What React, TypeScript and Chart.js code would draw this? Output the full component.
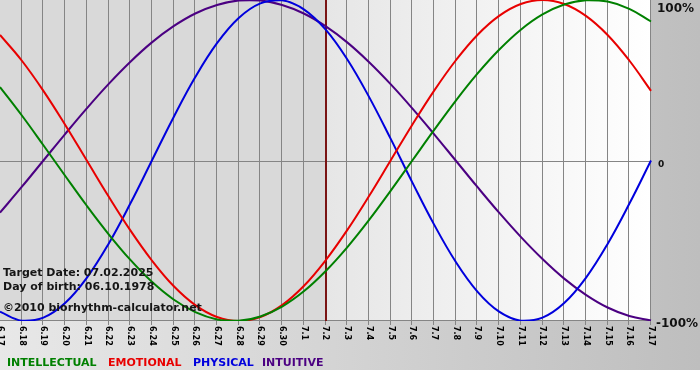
import { useEffect, useRef } from "react";
import { Chart, registerables } from "chart.js";

Chart.register(...registerables);

const days = [
  "6.17", "6.18", "6.19", "6.20", "6.21", "6.22", "6.23", "6.24", "6.25", "6.26",
  "6.27", "6.28", "6.29", "6.30", "7.1", "7.2", "7.3", "7.4", "7.5", "7.6",
  "7.7", "7.8", "7.9", "7.10", "7.11", "7.12", "7.13", "7.14", "7.15", "7.16", "7.17",
];

const intellectual = [
  0.458, 0.282, 0.095, -0.095, -0.282, -0.458, -0.618, -0.756, -0.866, -0.945,
  -0.99, -0.999, -0.972, -0.91, -0.815, -0.69, -0.541, -0.372, -0.189, 0.0,
  0.189, 0.372, 0.541, 0.69, 0.815, 0.91, 0.972, 0.999, 0.99, 0.945, 0.866,
];
const emotional = [
  0.782, 0.623, 0.434, 0.223, 0.0, -0.223, -0.434, -0.623, -0.782, -0.901,
  -0.975, -1.0, -0.975, -0.901, -0.782, -0.623, -0.434, -0.223, 0.0, 0.223,
  0.434, 0.623, 0.782, 0.901, 0.975, 1.0, 0.975, 0.901, 0.782, 0.623, 0.434,
];
const physical = [
  -0.942, -0.998, -0.979, -0.888, -0.731, -0.52, -0.27, 0.0, 0.27, 0.52,
  0.731, 0.888, 0.979, 0.998, 0.942, 0.817, 0.631, 0.398, 0.136, -0.136,
  -0.398, -0.631, -0.817, -0.942, -0.998, -0.979, -0.888, -0.731, -0.52, -0.27, 0.0,
];
const intuitive = [
  -0.325, -0.165, 0.0, 0.165, 0.325, 0.476, 0.614, 0.736, 0.837, 0.916,
  0.969, 0.997, 0.997, 0.969, 0.916, 0.837, 0.736, 0.614, 0.476, 0.325,
  0.165, 0.0, -0.165, -0.325, -0.476, -0.614, -0.736, -0.837, -0.916, -0.969, -0.997,
];

const targetDay = "7.2";
const yTickValues = [1, 0, -1];
const yTickLabels = ["100%", "0", "-100%"];
const seriesNames = ["INTELLECTUAL", "EMOTIONAL", "PHYSICAL", "INTUITIVE"];
const seriesColors = ["#008000", "#e80000", "#0000dd", "#4b0082"];
const infoLines = [
  "Target Date: 07.02.2025",
  "Day of birth: 06.10.1978",
  "\u00A92010 biorhythm-calculator.net",
];

const FONT = "'DejaVu Sans', Verdana, sans-serif";

const decorPlugin = {
  id: "decor",
  beforeDraw(chart: any) {
    const ctx = chart.ctx as CanvasRenderingContext2D;
    const { left, right, top, bottom } = chart.chartArea;
    const xs = chart.scales.x;
    const ys = chart.scales.y;
    const W = chart.width;
    ctx.save();
    const og = ctx.createLinearGradient(0, 0, W, 0);
    og.addColorStop(0, "#e8e8e8");
    og.addColorStop(1, "#bebebe");
    ctx.fillStyle = og;
    ctx.fillRect(0, 0, W, 370);
    ctx.fillStyle = "#ffffff";
    ctx.fillRect(0, 370, W, chart.height - 370);

    const tx = xs.getPixelForValue(days.indexOf(targetDay));
    ctx.fillStyle = "#d9d9d9";
    ctx.fillRect(left, top, tx - left, bottom - top);
    const pg = ctx.createLinearGradient(tx, 0, right, 0);
    pg.addColorStop(0, "#e6e6e6");
    pg.addColorStop(1, "#ffffff");
    ctx.fillStyle = pg;
    ctx.fillRect(tx, top, right - tx, bottom - top);

    ctx.strokeStyle = "#858585";
    ctx.lineWidth = 1;
    ctx.beginPath();
    for (let i = 0; i < days.length; i++) {
      const x = Math.round(xs.getPixelForValue(i)) - 0.5;
      ctx.moveTo(x, top);
      ctx.lineTo(x, bottom + 4);
    }
    const y0 = Math.round(ys.getPixelForValue(0)) + 0.5;
    ctx.moveTo(left, y0);
    ctx.lineTo(right, y0);
    const yb = Math.round(bottom) - 0.5;
    ctx.moveTo(left, yb);
    ctx.lineTo(right, yb);
    ctx.stroke();

    ctx.strokeStyle = "#7a1414";
    ctx.lineWidth = 2;
    ctx.beginPath();
    ctx.moveTo(Math.round(tx), top);
    ctx.lineTo(Math.round(tx), bottom);
    ctx.stroke();
    ctx.restore();
  },
  afterDraw(chart: any) {
    const ctx = chart.ctx as CanvasRenderingContext2D;
    const { right, bottom } = chart.chartArea;
    const xs = chart.scales.x;
    const ys = chart.scales.y;
    ctx.save();
    ctx.fillStyle = "#000000";
    ctx.font = `bold 8px ${FONT}`;
    ctx.textAlign = "left";
    ctx.textBaseline = "middle";
    for (let i = 0; i < days.length; i++) {
      const x = xs.getPixelForValue(i);
      ctx.save();
      ctx.translate(x, bottom + 5);
      ctx.rotate(Math.PI / 2);
      ctx.fillText(days[i], 0, 0);
      ctx.restore();
    }
    ctx.textBaseline = "alphabetic";
    ctx.fillStyle = "#111111";
    yTickValues.forEach((v, k) => {
      const y = ys.getPixelForValue(v);
      if (v === 0) {
        ctx.font = `bold 9px ${FONT}`;
        ctx.fillText(yTickLabels[k], right + 7, y + 6);
      } else if (v > 0) {
        ctx.font = `bold 12px ${FONT}`;
        ctx.fillText(yTickLabels[k], right + 6, y + 12);
      } else {
        ctx.font = `bold 12px ${FONT}`;
        ctx.fillText(yTickLabels[k], right + 5, y + 6);
      }
    });
    ctx.font = `bold 11px ${FONT}`;
    ctx.fillStyle = "#151515";
    ctx.fillText(infoLines[0], 3, 276);
    ctx.fillText(infoLines[1], 3, 290);
    ctx.fillText(infoLines[2], 3, 311);
    const legendX = [7, 108, 193, 262];
    seriesNames.forEach((name, k) => {
      ctx.fillStyle = seriesColors[k];
      ctx.fillText(name, legendX[k], 366);
    });
    ctx.restore();
  },
};

export default function App() {
  const ref = useRef<HTMLCanvasElement | null>(null);
  useEffect(() => {
    if (!ref.current) return;
    const series = [intellectual, emotional, physical, intuitive];
    const chart = new Chart(ref.current, {
      type: "line",
      data: {
        labels: days,
        datasets: series.map((d, k) => ({
          label: seriesNames[k],
          data: d,
          borderColor: seriesColors[k],
          borderWidth: 2,
          pointRadius: 0,
          tension: 0.4,
          fill: false,
        })),
      },
      options: {
        animation: false,
        responsive: false,
        layout: { padding: { left: 0, top: 0, right: 49, bottom: 59 } },
        plugins: { legend: { display: false }, tooltip: { enabled: false } },
        scales: {
          x: { type: "category", display: false, offset: false },
          y: { type: "linear", display: false, min: -1, max: 1 },
        },
      },
      plugins: [decorPlugin],
    });
    return () => chart.destroy();
  }, []);
  return (
    <div style={{ position: "absolute", left: 0, top: 0, width: 700, height: 380 }}>
      <canvas ref={ref} width={700} height={380} style={{ width: 700, height: 380, display: "block" }} />
    </div>
  );
}
